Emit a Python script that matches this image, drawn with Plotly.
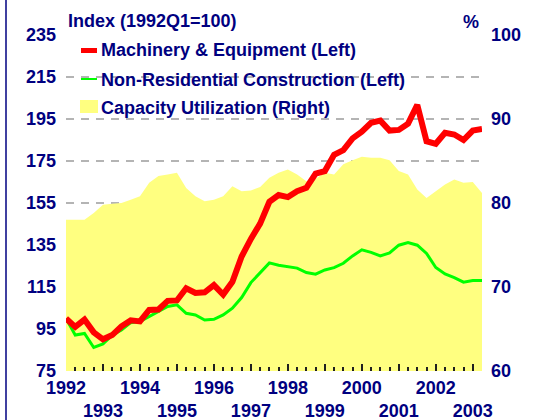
import plotly.graph_objects as go

# ---------------- data ----------------
quarters = [f"{y}Q{q}" for y in range(1992, 2004) for q in range(1, 5)][:46]   # 1992Q1 .. 2003Q2

machinery = [100, 96, 99.5, 93.4, 90.1, 92.1, 96.3, 99.1, 98.6, 104.1,
             104.3, 108.4, 108.6, 114.4, 112.2, 112.5, 115.9, 111.4, 117.5, 129.5,
             137.9, 145.2, 155.6, 158.8, 157.8, 160.6, 162.2, 169.0, 170.2, 178.0,
             180.2, 185.8, 189.0, 193.2, 194.2, 189.5, 189.8, 192.8, 201.7, 184.4,
             183.2, 188.4, 187.6, 185.0, 189.5, 190.2]

nonres = [100, 92.1, 92.9, 86.2, 87.9, 92.1, 94.5, 98.0, 98.5, 100.9,
          103.3, 105.7, 106.5, 102.5, 101.7, 99.3, 99.6, 101.7, 104.9, 110.0,
          117.1, 121.9, 126.5, 125.4, 124.8, 124.0, 121.9, 121.1, 123.1, 124.2,
          126.3, 129.8, 132.7, 131.5, 129.8, 131.2, 134.9, 136.2, 134.9, 131.0,
          124.3, 121.2, 119.5, 117.3, 118.1, 118.1]

capacity = [78.0, 78.0, 78.0, 78.8, 79.8, 79.9, 80.0, 80.4, 80.8, 82.4,
            83.2, 83.4, 83.6, 81.8, 80.8, 80.2, 80.4, 80.8, 82.0, 81.4,
            81.5, 81.9, 83.0, 83.6, 84.0, 83.4, 82.6, 82.9, 83.6, 83.4,
            84.6, 85.1, 85.5, 85.4, 85.4, 85.1, 83.8, 83.4, 81.6, 80.6,
            81.4, 82.2, 82.8, 82.4, 82.5, 81.2]

year_labels = [str(y) for y in range(1992, 2004)]
left_ticks = [75, 95, 115, 135, 155, 175, 195, 215, 235]
right_ticks = [60, 70, 80, 90, 100]

series_names = ["Machinery & Equipment (Left)",
                "Non-Residential Construction (Left)",
                "Capacity Utilization (Right)"]

# ---------------- layout constants ----------------
W, H = 543, 420
L, R, T, B = 66, 482, 35, 371
NAVY = "#000080"
RED = "#ff0000"
GREEN = "#00ff00"
YELLOW = "#ffff80"
TICK = "#202020"
FONT = dict(family="Liberation Sans, Arial, sans-serif", size=18, color=NAVY, weight="bold")


def px(x):
    return (x - L) / (R - L)


def py(y):
    return (B - y) / (B - T)


xs = list(range(len(quarters)))

fig = go.Figure()
# capacity on the base axis (drawn first, underneath); index lines on the overlaying axis
fig.add_trace(go.Scatter(x=xs, y=capacity, yaxis="y", mode="lines",
                         line=dict(width=0, color=YELLOW), fill="tozeroy",
                         fillcolor=YELLOW, name=series_names[2], showlegend=False,
                         text=quarters, hoverinfo="text+y"))
fig.add_trace(go.Scatter(x=xs, y=nonres, yaxis="y2", mode="lines",
                         line=dict(width=3, color=GREEN), name=series_names[1],
                         showlegend=False, text=quarters, hoverinfo="text+y"))
fig.add_trace(go.Scatter(x=xs, y=machinery, yaxis="y2", mode="lines",
                         line=dict(width=6, color=RED), name=series_names[0],
                         showlegend=False, text=quarters, hoverinfo="text+y"))

tickvals = [4 * k for k in range(len(year_labels))]
ticktext = [lab if k % 2 == 0 else "<br>" + lab for k, lab in enumerate(year_labels)]

fig.update_layout(
    width=W, height=H,
    margin=dict(l=L, r=W - R, t=T, b=H - B, pad=0),
    paper_bgcolor="white", plot_bgcolor="white",
    font=FONT,
    xaxis=dict(range=[0, len(quarters) - 1], tickmode="array", tickvals=tickvals,
               ticktext=ticktext, tickangle=0, ticks="inside", ticklen=7, tickwidth=1.5,
               tickcolor=TICK, showgrid=False, zeroline=False, showline=False,
               tickfont=FONT, ticklabelstandoff=4, automargin=False,
               minor=dict(tickmode="linear", tick0=0, dtick=1, ticks="inside",
                          ticklen=4, tickwidth=1.5, tickcolor=TICK, showgrid=False)),
    yaxis=dict(range=[60, 100], side="right", tickmode="array",
               tickvals=right_ticks, showgrid=False, zeroline=False, showline=False,
               ticks="", tickfont=FONT, ticklabelstandoff=8, automargin=False),
    yaxis2=dict(range=[75, 235], side="left", overlaying="y", tickmode="array",
                tickvals=left_ticks,
                showgrid=True, gridcolor="#b4b4b4", gridwidth=1.5, griddash="8px,7px",
                zeroline=False, showline=False, ticks="", tickfont=FONT,
                ticklabelstandoff=9, automargin=False),
    showlegend=False,
)

shapes = [
    # left frame line
    dict(type="line", xref="paper", yref="paper", x0=px(6), x1=px(6), y0=py(0), y1=py(H),
         line=dict(color=NAVY, width=1.5)),
    # custom legend symbols
    dict(type="line", xref="paper", yref="paper", x0=px(81), x1=px(97), y0=py(50.5), y1=py(50.5),
         line=dict(color=RED, width=5)),
    dict(type="line", xref="paper", yref="paper", x0=px(81), x1=px(97), y0=py(79), y1=py(79),
         line=dict(color=GREEN, width=2)),
    dict(type="rect", xref="paper", yref="paper", x0=px(80), x1=px(98), y0=py(113), y1=py(100),
         line=dict(width=0), fillcolor=YELLOW),
]
fig.update_layout(shapes=shapes)

annotations = [
    dict(text="Index (1992Q1=100)", x=px(66), y=py(21), xanchor="left", yanchor="middle"),
    dict(text="%", x=px(481), y=py(22), xanchor="right", yanchor="middle"),
    dict(text=series_names[0], x=px(99), y=py(50), xanchor="left", yanchor="middle"),
    dict(text=series_names[1], x=px(99), y=py(80), xanchor="left", yanchor="middle"),
    dict(text=series_names[2], x=px(99), y=py(107.5), xanchor="left", yanchor="middle"),
]
for a in annotations:
    a.update(xref="paper", yref="paper", showarrow=False, font=FONT)
fig.update_layout(annotations=annotations)

fig.write_html("out.html",
               config={"displayModeBar": False},
               post_script="document.body.style.margin='0';document.body.style.overflow='hidden';")
